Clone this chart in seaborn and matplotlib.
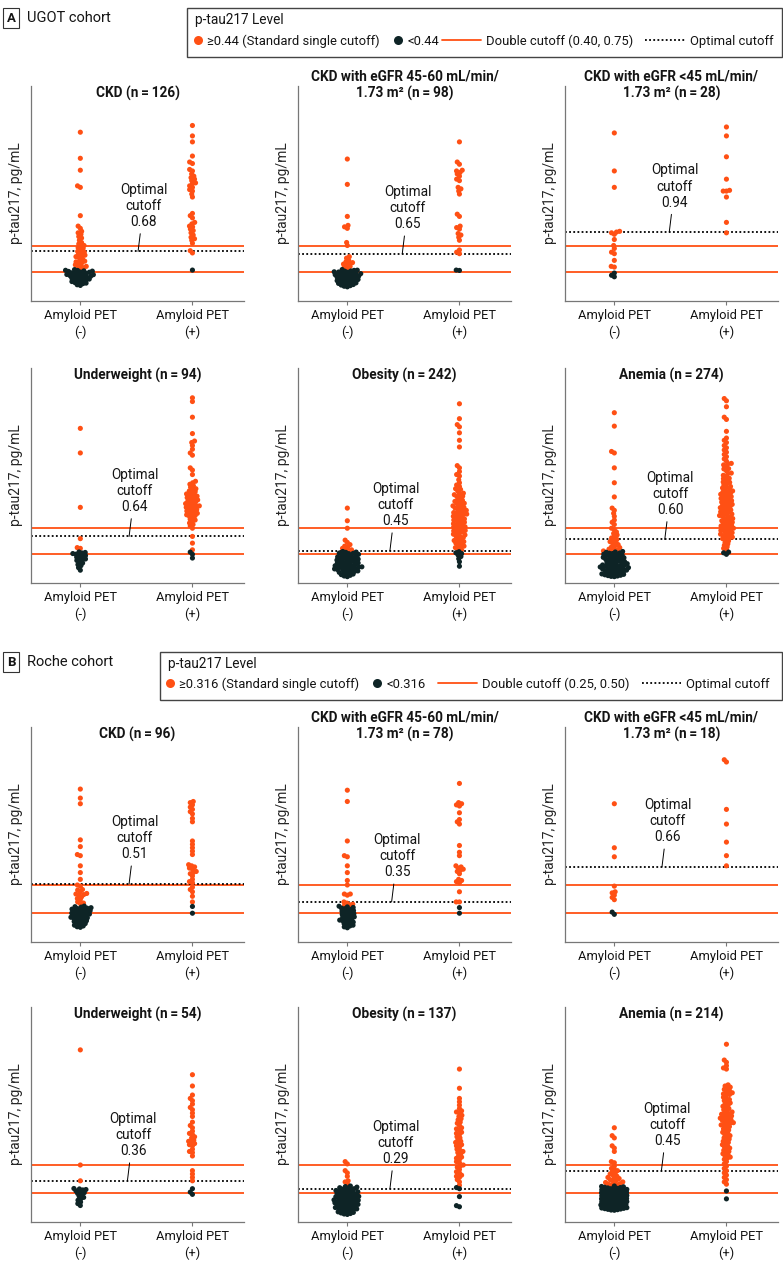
import numpy as np
import pandas as pd
import seaborn as sns
import matplotlib.pyplot as plt
from matplotlib.lines import Line2D
from matplotlib.patches import Rectangle

# ---------------- data ----------------
# panel A, UGOT cohort, values in pg/mL
a_ckd_neg = [2.28, 1.93, 1.77, 1.56, 1.54, 1.16, 1.02, 0.99, 0.95, 0.93, 0.91, 0.88, 0.86, 0.83, 0.80,
             0.78, 0.76, 0.75, 0.73, 0.72, 0.70, 0.68, 0.67, 0.66, 0.64, 0.63, 0.62, 0.61, 0.60, 0.58,
             0.56, 0.55, 0.54, 0.53, 0.52, 0.50, 0.49, 0.48, 0.47, 0.46, 0.45,
             0.436, 0.427, 0.425, 0.419, 0.416, 0.412, 0.404, 0.401, 0.393, 0.391, 0.386, 0.383, 0.379,
             0.371, 0.368, 0.361, 0.357, 0.349, 0.346, 0.341, 0.338, 0.333, 0.324, 0.320, 0.309, 0.304,
             0.298, 0.293, 0.287, 0.276, 0.270, 0.262, 0.255, 0.248, 0.233, 0.224]
a_ckd_pos = [2.37, 2.23, 2.15, 1.96, 1.88, 1.86, 1.78, 1.76, 1.72, 1.69, 1.67, 1.65, 1.63, 1.60, 1.59,
             1.56, 1.54, 1.51, 1.49, 1.45, 1.41, 1.19, 1.16, 1.13, 1.07, 1.05, 1.02, 1.01, 0.98, 0.96,
             0.93, 0.90, 0.87, 0.85, 0.83, 0.79, 0.69, 0.66, 0.43]

a_egfr1_neg = [1.92, 1.58, 1.15, 1.03, 1.01, 0.99, 0.80, 0.76, 0.61, 0.59, 0.56, 0.54, 0.53, 0.52, 0.51,
               0.50, 0.48, 0.47, 0.46,
               0.437, 0.429, 0.426, 0.418, 0.415, 0.407, 0.404, 0.401, 0.394, 0.389, 0.382, 0.379, 0.375,
               0.368, 0.365, 0.361, 0.354, 0.350, 0.346, 0.339, 0.335, 0.331, 0.323, 0.318, 0.314, 0.304,
               0.299, 0.294, 0.288, 0.283, 0.277, 0.271, 0.265, 0.258, 0.251, 0.244, 0.236, 0.229, 0.221,
               0.213, 0.205]
a_egfr1_pos = [2.15, 1.88, 1.85, 1.77, 1.76, 1.74, 1.72, 1.69, 1.65, 1.63, 1.54, 1.52, 1.49, 1.45, 1.18,
               1.15, 1.02, 1.00, 0.98, 0.92, 0.90, 0.87, 0.83, 0.70, 0.67, 0.65, 0.43, 0.425]

a_egfr2_neg = [2.27, 1.76, 1.54, 0.95, 0.94, 0.93, 0.91, 0.84, 0.76, 0.72, 0.67, 0.65, 0.56, 0.48, 0.47,
               0.39, 0.36, 0.34]
a_egfr2_pos = [2.35, 2.23, 1.95, 1.65, 1.50, 1.49, 1.49, 1.41, 1.07, 0.93]

a_under_neg = [2.09, 1.76, 1.03, 0.61, 0.49, 0.48,
               0.432, 0.425, 0.418, 0.410, 0.402, 0.391, 0.383, 0.371, 0.362, 0.349, 0.337, 0.326, 0.318,
               0.302, 0.283, 0.262, 0.248, 0.221, 0.187]
a_under_pos = [2.50, 2.45, 2.24, 2.02, 1.92, 1.90, 1.86, 1.81, 1.76, 1.73, 1.56, 1.53, 1.47, 1.38, 1.36,
               1.34, 1.32, 1.30, 1.28, 1.27, 1.25, 1.24, 1.23, 1.21, 1.20, 1.19, 1.18, 1.17, 1.16, 1.15,
               1.14, 1.13, 1.12, 1.11, 1.10, 1.09, 1.08, 1.07, 1.06, 1.05, 1.05, 1.04, 1.03, 1.02, 1.01,
               1.00, 0.99, 0.98, 0.97, 0.96, 0.95, 0.94, 0.93, 0.92, 0.91, 0.89, 0.87, 0.86, 0.84, 0.82,
               0.80, 0.78, 0.75, 0.64, 0.55, 0.46, 0.43, 0.40, 0.35]

a_obese_neg = [1.02, 0.85, 0.75, 0.59, 0.56, 0.53, 0.51, 0.50, 0.48, 0.47, 0.46, 0.45,
               0.438, 0.430, 0.426, 0.417, 0.413, 0.409, 0.399, 0.395, 0.386, 0.382, 0.373, 0.369, 0.365,
               0.356, 0.352, 0.348, 0.339, 0.335, 0.331, 0.322, 0.318, 0.314, 0.305, 0.301, 0.297, 0.288,
               0.284, 0.280, 0.271, 0.267, 0.263, 0.254, 0.250, 0.246, 0.241, 0.237, 0.232, 0.228, 0.223,
               0.219, 0.214, 0.209, 0.204, 0.199, 0.194, 0.189, 0.183, 0.177, 0.171, 0.165, 0.158, 0.151,
               0.143, 0.135, 0.127, 0.118, 0.109, 0.100]
a_obese_pos = [2.42, 2.22, 2.14, 2.11, 2.03, 1.93, 1.84, 1.59, 1.56, 1.51, 1.47, 1.45, 1.40, 1.36, 1.33,
               1.31, 1.28, 1.27, 1.25, 1.22, 1.215, 1.20, 1.18, 1.175, 1.16, 1.13, 1.125, 1.11, 1.10,
               1.085, 1.08, 1.06, 1.05, 1.045, 1.03, 1.02, 1.015, 1.00, 0.99, 0.985, 0.97, 0.96, 0.955,
               0.94, 0.935, 0.93, 0.91, 0.905, 0.90, 0.88, 0.875, 0.86, 0.855, 0.85, 0.83, 0.825, 0.81,
               0.80, 0.795, 0.78, 0.77, 0.765, 0.75, 0.745, 0.73, 0.72, 0.715, 0.70, 0.69, 0.685, 0.67,
               0.66, 0.645, 0.64, 0.625, 0.61, 0.60, 0.585, 0.57, 0.565, 0.55, 0.54, 0.525, 0.51, 0.50,
               0.49, 0.475, 0.46, 0.435, 0.42, 0.41, 0.39, 0.37, 0.34, 0.30, 0.24]

a_anemia_neg = [2.30, 2.12, 1.78, 1.76, 1.56, 1.36, 1.17, 1.02, 0.99, 0.95, 0.91, 0.86, 0.83, 0.80, 0.75,
                0.73, 0.70, 0.68, 0.66, 0.64, 0.62, 0.60, 0.59, 0.57, 0.56, 0.55, 0.53, 0.52, 0.50, 0.49,
                0.48, 0.47, 0.46, 0.45, 0.445,
                0.438, 0.431, 0.427, 0.418, 0.414, 0.410, 0.401, 0.397, 0.388, 0.384, 0.376, 0.371, 0.363,
                0.359, 0.354, 0.346, 0.342, 0.333, 0.329, 0.325, 0.316, 0.312, 0.303, 0.299, 0.295, 0.286,
                0.282, 0.274, 0.269, 0.265, 0.257, 0.252, 0.248, 0.244, 0.239, 0.235, 0.230, 0.226, 0.221,
                0.217, 0.212, 0.208, 0.203, 0.198, 0.193, 0.188, 0.183, 0.178, 0.172, 0.167, 0.161, 0.155,
                0.149, 0.143, 0.137, 0.131, 0.125, 0.119, 0.114, 0.109, 0.104, 0.100]
a_anemia_pos = [2.49, 2.46, 2.38, 2.24, 2.21, 2.05, 1.96, 1.93, 1.90, 1.86, 1.83, 1.80, 1.77, 1.74, 1.71,
                1.68, 1.65, 1.62, 1.615, 1.60, 1.58, 1.55, 1.545, 1.52, 1.49, 1.485, 1.46, 1.45, 1.42,
                1.415, 1.40, 1.37, 1.365, 1.35, 1.33, 1.31, 1.305, 1.29, 1.27, 1.265, 1.25, 1.24, 1.235,
                1.22, 1.21, 1.205, 1.19, 1.18, 1.175, 1.16, 1.15, 1.145, 1.13, 1.12, 1.115, 1.10, 1.09,
                1.085, 1.07, 1.06, 1.055, 1.04, 1.03, 1.025, 1.01, 1.00, 0.995, 0.98, 0.97, 0.965, 0.95,
                0.94, 0.935, 0.92, 0.91, 0.905, 0.89, 0.88, 0.875, 0.86, 0.85, 0.845, 0.83, 0.82, 0.815,
                0.80, 0.79, 0.78, 0.77, 0.765, 0.75, 0.74, 0.73, 0.72, 0.715, 0.70, 0.69, 0.68, 0.67, 0.66,
                0.65, 0.64, 0.63, 0.62, 0.61, 0.60, 0.58, 0.56, 0.54, 0.52, 0.50, 0.48, 0.46, 0.43, 0.42,
                0.40]

# panel B, Roche cohort
b_ckd_neg = [1.35, 1.27, 1.22, 0.90, 0.84, 0.77, 0.76, 0.67, 0.61, 0.55, 0.50, 0.49, 0.46, 0.455, 0.44,
             0.425, 0.42, 0.415, 0.41, 0.395, 0.38, 0.37, 0.35, 0.34, 0.335,
             0.313, 0.308, 0.304, 0.299, 0.295, 0.291, 0.286, 0.282, 0.278, 0.273, 0.269, 0.264, 0.260,
             0.256, 0.251, 0.247, 0.242, 0.238, 0.233, 0.229, 0.224, 0.219, 0.214, 0.209, 0.204, 0.199,
             0.194, 0.189, 0.183, 0.177, 0.171, 0.165, 0.158, 0.151, 0.144, 0.137, 0.130, 0.125]
b_ckd_pos = [1.24, 1.23, 1.21, 1.19, 1.17, 1.15, 1.13, 1.09, 1.06, 0.89, 0.86, 0.83, 0.80, 0.77, 0.68,
             0.67, 0.66, 0.65, 0.64, 0.62, 0.61, 0.60, 0.58, 0.55, 0.53, 0.52, 0.48, 0.46, 0.44, 0.40,
             0.35, 0.31, 0.25]

b_egfr1_neg = [1.34, 1.24, 0.89, 0.76, 0.75, 0.67, 0.61, 0.54, 0.50, 0.42, 0.42, 0.41, 0.35, 0.34, 0.33,
               0.325, 0.32,
               0.312, 0.306, 0.301, 0.295, 0.290, 0.284, 0.279, 0.273, 0.268, 0.262, 0.257, 0.251, 0.246,
               0.240, 0.235, 0.229, 0.224, 0.218, 0.213, 0.207, 0.201, 0.195, 0.189, 0.183, 0.177, 0.171,
               0.165, 0.158, 0.151, 0.144, 0.137, 0.129, 0.121]
b_egfr1_pos = [1.40, 1.23, 1.22, 1.21, 1.20, 1.14, 1.08, 1.06, 1.04, 0.85, 0.79, 0.76, 0.67, 0.66, 0.65,
               0.64, 0.63, 0.62, 0.60, 0.55, 0.54, 0.53, 0.52, 0.44, 0.35, 0.35, 0.30, 0.25]

b_egfr2_neg = [1.22, 0.83, 0.75, 0.49, 0.44, 0.43, 0.41, 0.39, 0.37, 0.26, 0.24]
b_egfr2_pos = [1.61, 1.59, 1.17, 1.04, 0.88, 0.76, 0.67]

b_under_neg = [1.52, 0.50, 0.36,
               0.292, 0.288, 0.283, 0.279, 0.271, 0.262, 0.255, 0.248, 0.236, 0.224, 0.213, 0.201, 0.188,
               0.172, 0.158, 0.141]
b_under_pos = [1.30, 1.20, 1.12, 1.09, 1.07, 1.04, 1.01, 0.99, 0.96, 0.93, 0.88, 0.85, 0.83, 0.80, 0.78,
               0.77, 0.75, 0.74, 0.72, 0.71, 0.70, 0.69, 0.68, 0.67, 0.64, 0.62, 0.61, 0.58, 0.45, 0.42,
               0.39, 0.36, 0.29, 0.26, 0.24]

b_obese_neg = [0.53, 0.51, 0.45, 0.43, 0.40, 0.36, 0.35, 0.33,
               0.314, 0.309, 0.304, 0.299, 0.295, 0.290, 0.286, 0.282, 0.278, 0.274, 0.270, 0.266, 0.263,
               0.258, 0.254, 0.251, 0.247, 0.243, 0.240, 0.236, 0.233, 0.229, 0.226, 0.222, 0.219,
               0.215, 0.212, 0.208, 0.205, 0.202, 0.198, 0.195, 0.191, 0.188, 0.185, 0.181, 0.178,
               0.175, 0.172, 0.168, 0.165, 0.161, 0.158, 0.155, 0.151, 0.148, 0.144, 0.141, 0.137,
               0.134, 0.130, 0.126, 0.123, 0.119, 0.115, 0.111, 0.107, 0.103, 0.099, 0.094, 0.090, 0.085,
               0.080, 0.075, 0.070, 0.066, 0.062]
b_obese_pos = [1.35, 1.18, 1.09, 1.06, 1.03, 1.00, 0.98, 0.97, 0.96, 0.94, 0.93, 0.91, 0.90, 0.88, 0.87,
               0.85, 0.83, 0.82, 0.81, 0.79, 0.78, 0.77, 0.75, 0.74, 0.72, 0.71, 0.70, 0.69, 0.68, 0.67,
               0.66, 0.64, 0.63, 0.62, 0.61, 0.60, 0.58, 0.57, 0.56, 0.55, 0.53, 0.52, 0.50, 0.49, 0.48,
               0.46, 0.44, 0.43, 0.41, 0.40, 0.39, 0.37, 0.35, 0.32, 0.30, 0.29, 0.22, 0.14, 0.13]

b_anemia_neg = [0.83, 0.76, 0.74, 0.67, 0.65, 0.62, 0.53, 0.52, 0.49, 0.47, 0.46, 0.45, 0.44, 0.43, 0.42,
                0.41, 0.40, 0.39, 0.385, 0.38, 0.37, 0.365, 0.36, 0.35, 0.345, 0.34, 0.335, 0.33, 0.325,
                0.32,
                0.314, 0.310, 0.307, 0.303, 0.300, 0.297, 0.293, 0.290, 0.287, 0.284, 0.281, 0.278,
                0.275, 0.272, 0.269, 0.266, 0.263, 0.260, 0.257, 0.254, 0.251, 0.248, 0.245, 0.242, 0.239,
                0.236, 0.233, 0.230, 0.227, 0.224, 0.221, 0.218, 0.215, 0.212, 0.209, 0.206, 0.203,
                0.200, 0.197, 0.194, 0.191, 0.188, 0.185, 0.182, 0.179, 0.176, 0.173, 0.170, 0.167,
                0.164, 0.161, 0.158, 0.155, 0.152, 0.149, 0.146, 0.143, 0.140, 0.137, 0.134, 0.131, 0.128,
                0.125, 0.122, 0.119, 0.116, 0.113, 0.110, 0.107, 0.104, 0.101, 0.099]
b_anemia_pos = [1.57, 1.43, 1.41, 1.38, 1.36, 1.35, 1.21, 1.20, 1.19, 1.18, 1.17, 1.16, 1.15, 1.14, 1.13,
                1.125, 1.12, 1.10, 1.09, 1.08, 1.07, 1.06, 1.05, 1.04, 1.03, 1.02, 1.01, 1.00, 0.99, 0.98,
                0.97, 0.96, 0.955, 0.95, 0.94, 0.93, 0.935, 0.92, 0.91, 0.915, 0.90, 0.89, 0.895, 0.88,
                0.87, 0.875, 0.86, 0.85, 0.855, 0.84, 0.83, 0.82, 0.81, 0.80, 0.79, 0.78, 0.77, 0.76, 0.75,
                0.74, 0.73, 0.72, 0.71, 0.70, 0.69, 0.68, 0.67, 0.66, 0.65, 0.64, 0.63, 0.62, 0.61, 0.60,
                0.59, 0.58, 0.57, 0.56, 0.55, 0.53, 0.51, 0.49, 0.47, 0.45, 0.43, 0.41, 0.39, 0.37, 0.35,
                0.33, 0.27, 0.20]

titles = ['CKD (n\u2009=\u2009{})', 'CKD with eGFR 45-60 mL/min/\n1.73 m\u00b2 (n\u2009=\u2009{})',
          'CKD with eGFR <45 mL/min/\n1.73 m\u00b2 (n\u2009=\u2009{})', 'Underweight (n\u2009=\u2009{})',
          'Obesity (n\u2009=\u2009{})', 'Anemia (n\u2009=\u2009{})']
a_n = [126, 98, 28, 94, 242, 274]
b_n = [96, 78, 18, 54, 137, 214]
a_optimal = [0.68, 0.65, 0.94, 0.64, 0.45, 0.60]
b_optimal = [0.51, 0.35, 0.66, 0.36, 0.29, 0.45]
a_single, b_single = 0.44, 0.316
a_double, b_double = [0.40, 0.75], [0.25, 0.50]

# ---------------- style ----------------
sns.set_style("ticks")
plt.rcParams['font.family'] = ['Roboto', 'DejaVu Sans']
plt.rcParams['font.size'] = 9
plt.rcParams['text.color'] = '#141414'
plt.rcParams['xtick.color'] = '#777777'
plt.rcParams['xtick.labelcolor'] = '#141414'

ORANGE = '#ff5014'
DARK = '#0e2426'
SWARM = 2.2   # marker size used for the swarm layout
DOT = 3.7     # marker size actually drawn
DOTTED = (0, (1, 1.3))

W, H = 783, 1274
fig = plt.figure(figsize=(W / 100, H / 100), dpi=100)

col_left = [31, 298, 565]
row_top = [86, 368, 727, 1007]
ax_w, ax_h = 213, 215


def panel(ax, neg, pos, thr, dbl, opt, title, tx, ylim, lift):
    df = pd.DataFrame({'pet': ['neg'] * len(neg) + ['pos'] * len(pos), 'val': neg + pos})
    df['level'] = np.where(df['val'] >= thr, 'high', 'low')
    sns.swarmplot(data=df, x='pet', y='val', hue='level', order=['neg', 'pos'], hue_order=['high', 'low'],
                  palette={'high': ORANGE, 'low': DARK}, size=SWARM, linewidth=0, legend=False,
                  zorder=3, ax=ax)
    for v in dbl:
        ax.axhline(v, color=ORANGE, lw=1.3, zorder=2)
    ax.axhline(opt, color='black', lw=1.3, ls=DOTTED, zorder=2)
    ax.annotate(f'Optimal\ncutoff\n{opt:.2f}', xy=(tx - 0.05, opt), xytext=(tx, opt + lift),
                ha='center', va='bottom', fontsize=9.8, linespacing=1.2,
                arrowprops=dict(arrowstyle='-', lw=0.7, color='black', shrinkA=1, shrinkB=0))
    ax.set_xlim(-0.44, 1.46)
    ax.set_ylim(*ylim)
    ax.set_xticks([0, 1], ['Amyloid PET\n(-)', 'Amyloid PET\n(+)'], linespacing=1.3)
    ax.tick_params(axis='x', length=3, width=0.8, pad=3, labelsize=9.3)
    ax.set_yticks([])
    ax.set_xlabel('')
    ax.set_ylabel('p-tau217, pg/mL', fontsize=10, labelpad=6)
    ax.text(0.5, 0.93, title, transform=ax.transAxes, ha='center',
            va='bottom', fontweight='bold', fontsize=9.8, linespacing=1.2)
    sns.despine(ax=ax)
    for s in ['left', 'bottom']:
        ax.spines[s].set_color('#777777')
        ax.spines[s].set_linewidth(0.9)


def key(letter, cohort, box, title_y, row_y, dots_x, lines_x, thr, dbl):
    x0, y0, x1, y1 = box
    fig.text(11 / W, 1 - (y0 + 10) / H, letter, ha='center', va='center', fontweight='bold', fontsize=9.5,
             bbox=dict(boxstyle='square,pad=0.3', fc='white', ec='#333333', lw=0.8))
    fig.text(27 / W, 1 - (y0 + 10) / H, cohort, va='center', fontsize=10.5)
    fig.patches.append(Rectangle((x0 / W, 1 - y1 / H), (x1 - x0) / W, (y1 - y0) / H,
                                 transform=fig.transFigure, fill=False, ec='#444444', lw=1))
    fig.text((x0 + 8) / W, 1 - title_y / H, 'p-tau217 Level', va='center', fontsize=9.8)
    h1 = [Line2D([], [], ls='', marker='o', ms=6.5, mfc=ORANGE, mec='none'),
          Line2D([], [], ls='', marker='o', ms=6.5, mfc=DARK, mec='none')]
    fig.legend(h1, [f'\u2265{thr} (Standard single cutoff)', f'<{thr}'], loc='center left',
               bbox_to_anchor=(dots_x / W, 1 - row_y / H), ncol=2, frameon=False, handlelength=0.6,
               handletextpad=0.4, columnspacing=1.1, borderpad=0, borderaxespad=0, fontsize=9.4)
    h2 = [Line2D([], [], color=ORANGE, lw=1.3), Line2D([], [], color='black', lw=1.3, ls=DOTTED)]
    fig.legend(h2, [f'Double cutoff ({dbl[0]:.2f}, {dbl[1]:.2f})', 'Optimal cutoff'], loc='center left',
               bbox_to_anchor=(lines_x / W, 1 - row_y / H), ncol=2, frameon=False, handlelength=3.0,
               handletextpad=0.4, columnspacing=0.9, borderpad=0, borderaxespad=0, fontsize=9.4)


a_neg = [a_ckd_neg, a_egfr1_neg, a_egfr2_neg, a_under_neg, a_obese_neg, a_anemia_neg]
a_pos = [a_ckd_pos, a_egfr1_pos, a_egfr2_pos, a_under_pos, a_obese_pos, a_anemia_pos]
b_neg = [b_ckd_neg, b_egfr1_neg, b_egfr2_neg, b_under_neg, b_obese_neg, b_anemia_neg]
b_pos = [b_ckd_pos, b_egfr1_pos, b_egfr2_pos, b_under_pos, b_obese_pos, b_anemia_pos]
a_tx = [0.565, 0.54, 0.54, 0.485, 0.43, 0.50]
b_tx = [0.485, 0.445, 0.475, 0.47, 0.43, 0.47]

for i in range(6):
    r, c = divmod(i, 3)
    ax = fig.add_axes([col_left[c] / W, 1 - (row_top[r] + ax_h) / H, ax_w / W, ax_h / H])
    panel(ax, a_neg[i], a_pos[i], a_single, a_double, a_optimal[i], titles[i].format(a_n[i]),
          a_tx[i], (0.015, 2.9), 0.30)
    ax = fig.add_axes([col_left[c] / W, 1 - (row_top[r + 2] + ax_h) / H, ax_w / W, ax_h / H])
    panel(ax, b_neg[i], b_pos[i], b_single, b_double, b_optimal[i], titles[i].format(b_n[i]),
          b_tx[i], (-0.005, 1.9), 0.20)

key('A', 'UGOT cohort', (187, 8, 782, 57), 20, 41, 194, 442, '0.44', a_double)
key('B', 'Roche cohort', (160, 652, 782, 700), 664, 684, 166, 438, '0.316', b_double)

# lay the swarms out with the small marker, then draw them with the bigger one
fig.canvas.draw()
for ax in fig.axes:
    for coll in ax.collections:
        coll.__dict__.pop('draw', None)
        coll.set_sizes([DOT ** 2])

fig.savefig('out.png', dpi=100)
